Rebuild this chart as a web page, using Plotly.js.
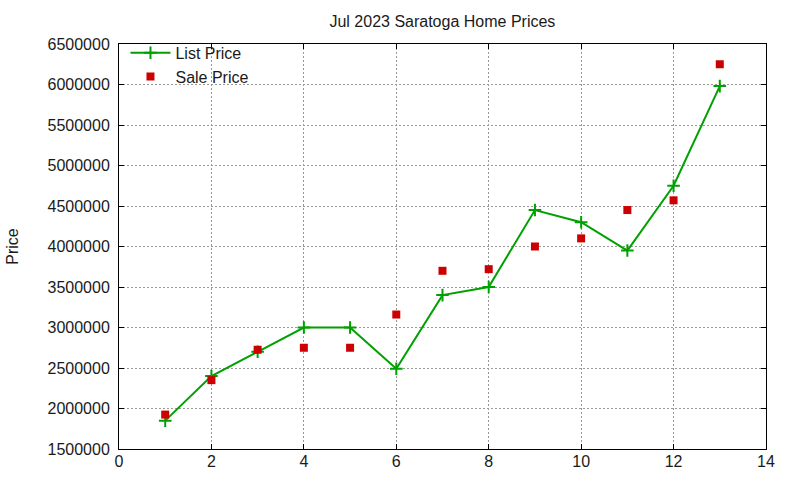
<!DOCTYPE html>
<html>
<head>
<meta charset="utf-8">
<script src="https://cdn.plot.ly/plotly-3.0.1.min.js"></script>
<style>html,body{margin:0;padding:0;background:#fff;}#chart{width:800px;height:480px;}</style>
</head>
<body>
<div id="chart"></div>
<script>
const chartTitle = "Jul 2023 Saratoga Home Prices";
const yAxisLabel = "Price";
const listLabel = "List Price";
const saleLabel = "Sale Price";
const xValues = [1, 2, 3, 4, 5, 6, 7, 8, 9, 10, 11, 12, 13];
const listPrice = [1850000, 2400000, 2700000, 3000000, 3000000, 2490000, 3400000, 3500000, 4450000, 4300000, 3950000, 4750000, 5980000];
const salePrice = [1925000, 2350000, 2725000, 2750000, 2750000, 3160000, 3700000, 3720000, 4000000, 4100000, 4450000, 4570000, 6250000];

const font = {family: "Liberation Sans, Arial, sans-serif", size: 16, color: "#1a1a1a"};
const axisCommon = {
  showline: true, linecolor: "#000", linewidth: 1, mirror: "allticks",
  ticks: "inside", ticklen: 5, tickcolor: "#000", tickwidth: 1,
  showgrid: true, gridcolor: "#999999", griddash: "2px,2px", gridwidth: 1,
  zeroline: false, tickfont: font
};

const traces = [
  {x: xValues, y: listPrice, name: listLabel, type: "scatter", mode: "lines+markers",
   line: {color: "#00a000", width: 2},
   marker: {symbol: "cross-thin", size: 9, line: {color: "#00a000", width: 2}}},
  {x: xValues, y: salePrice, name: saleLabel, type: "scatter", mode: "markers",
   marker: {symbol: "square", size: 8, color: "#cc0000"}}
];

const layout = {
  width: 800, height: 480,
  margin: {l: 119, r: 34, t: 44, b: 31},
  paper_bgcolor: "#fff", plot_bgcolor: "#fff",
  font: font,
  title: {text: chartTitle, font: {family: font.family, size: 16, color: "#1a1a1a"}, x: 0.553, xanchor: "center", y: 0.955, yanchor: "middle"},
  xaxis: Object.assign({}, axisCommon, {range: [0, 14], dtick: 2, tick0: 0, ticklabelstandoff: -2}),
  yaxis: Object.assign({}, axisCommon, {range: [1500000, 6500000], dtick: 500000, tick0: 1500000, tickformat: "d", ticklabelstandoff: 5,
    title: {text: yAxisLabel, font: font, standoff: 24}}),
  showlegend: true,
  legend: {x: 0.01, y: 1.02, xanchor: "left", yanchor: "top", bgcolor: "rgba(0,0,0,0)", font: font, tracegroupgap: 0, itemwidth: 40}
};

Plotly.newPlot("chart", traces, layout, {displayModeBar: false, staticPlot: true});
</script>
</body>
</html>
